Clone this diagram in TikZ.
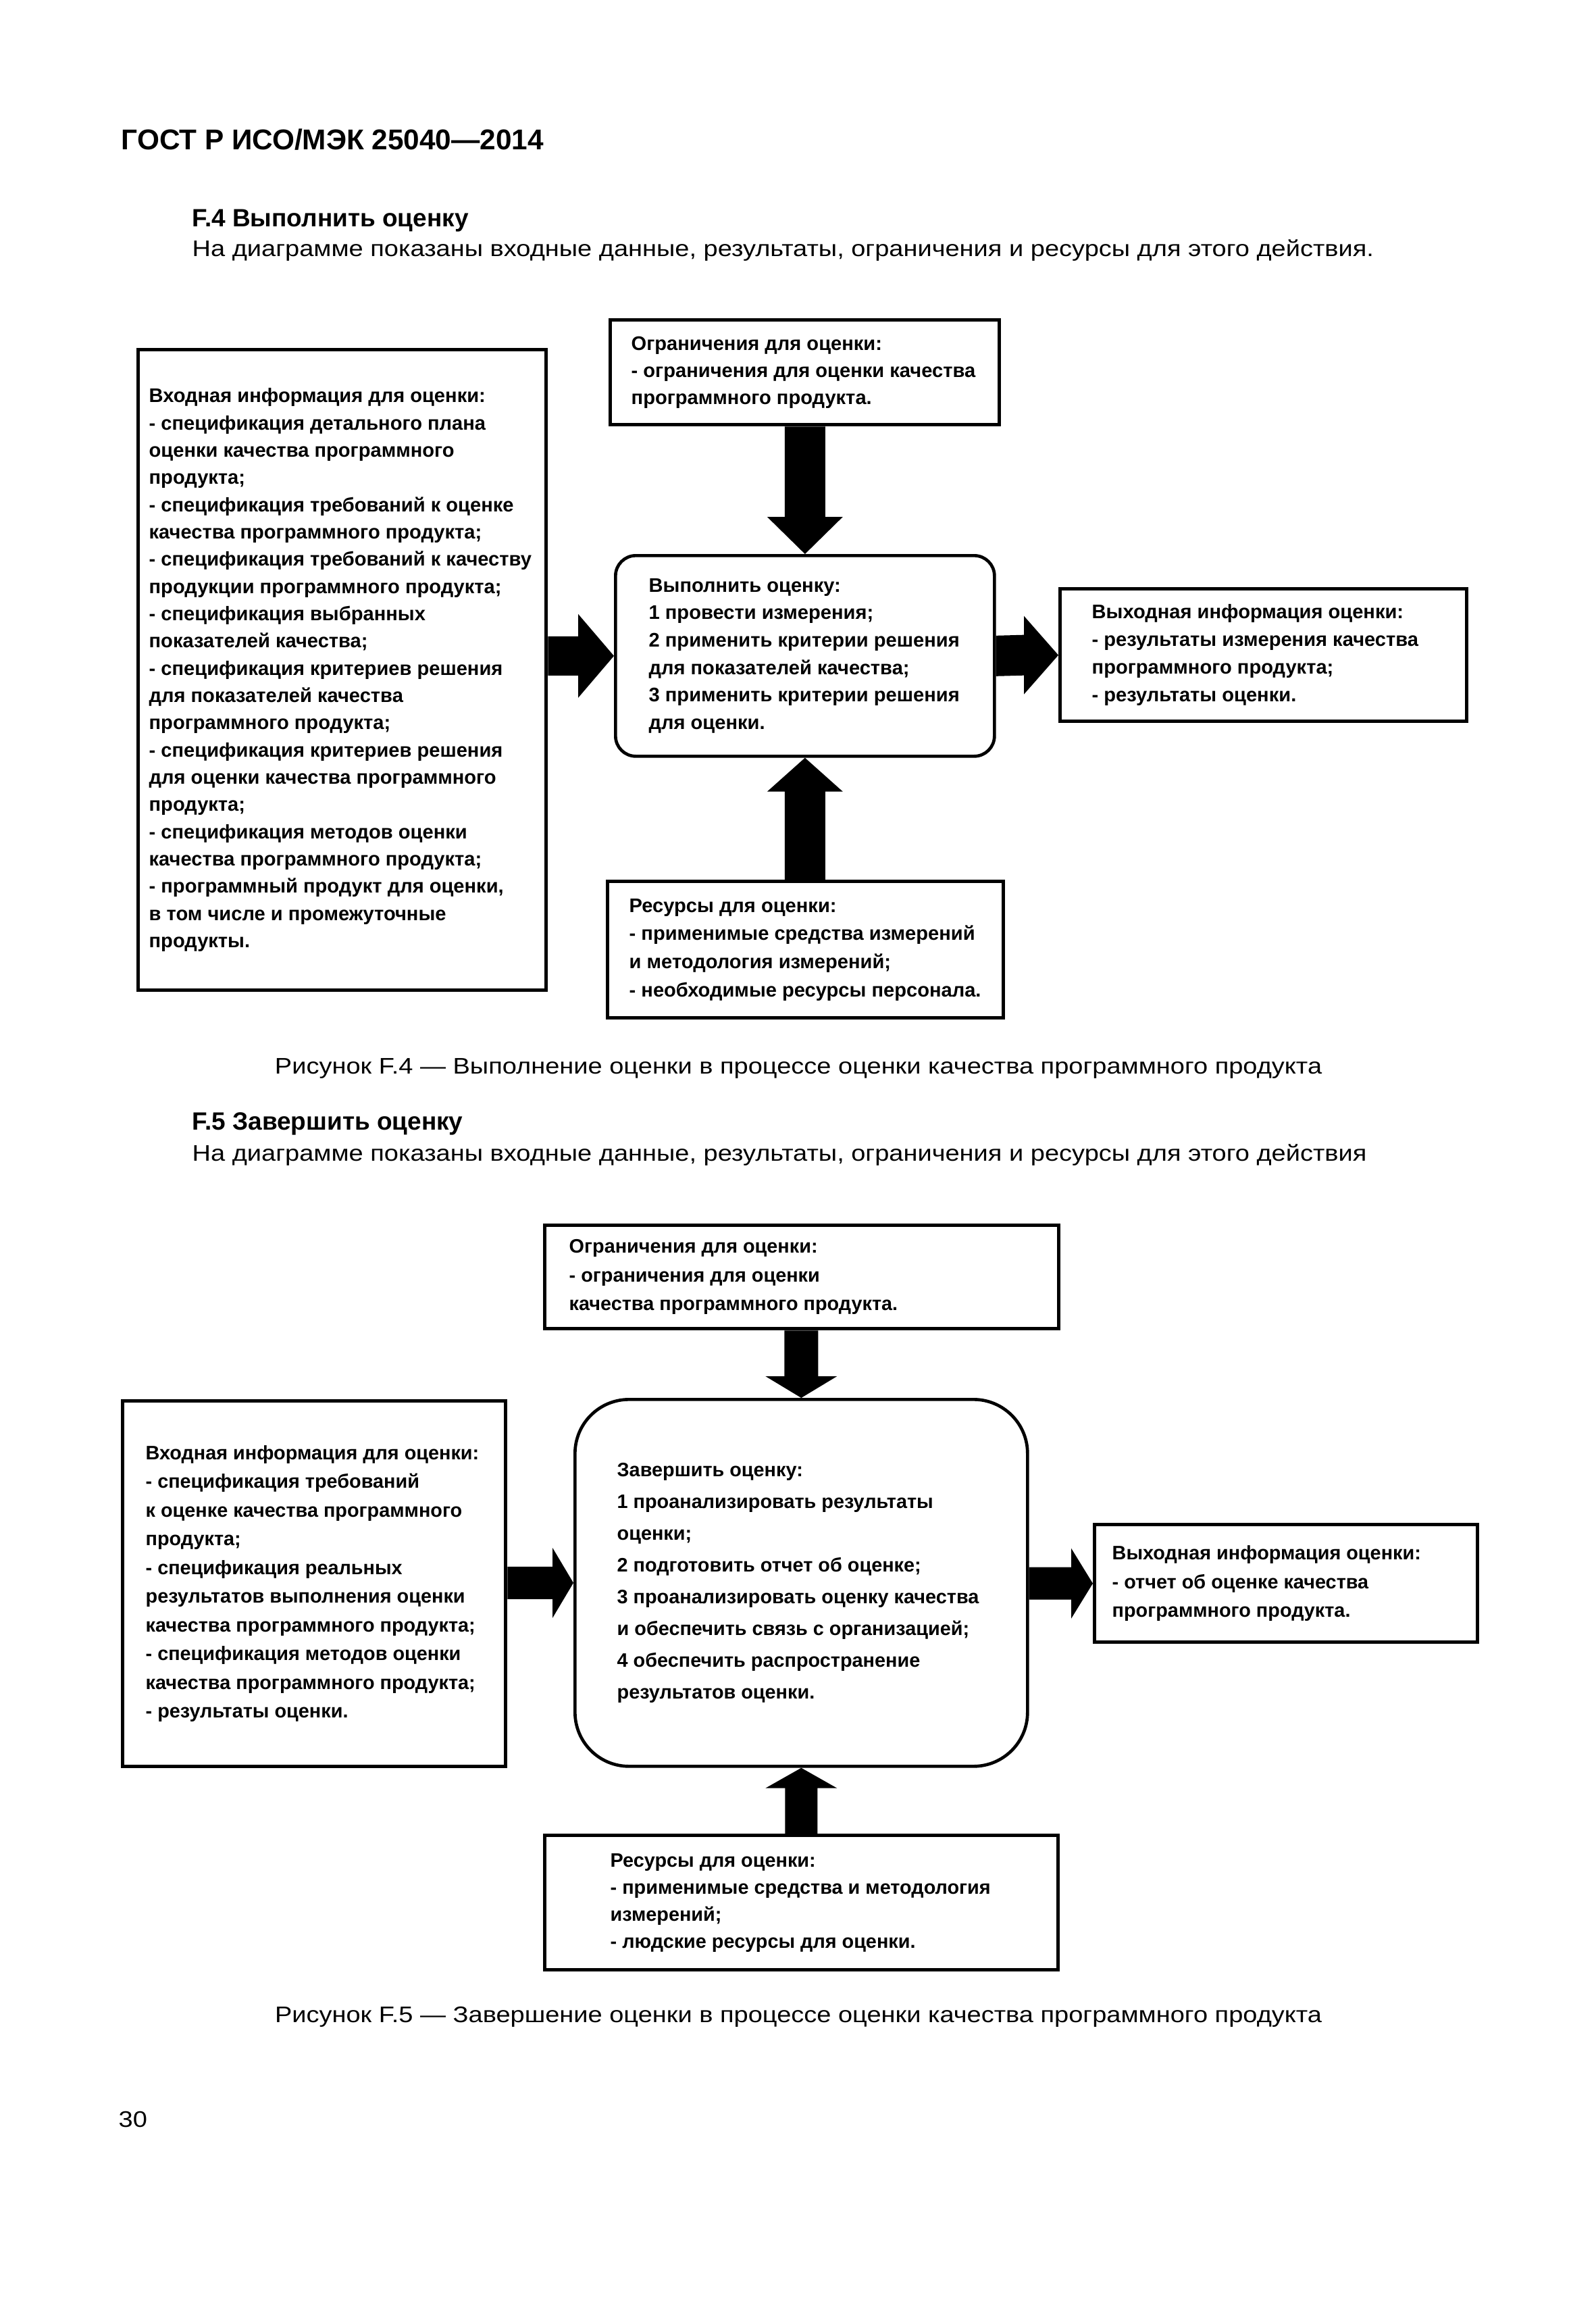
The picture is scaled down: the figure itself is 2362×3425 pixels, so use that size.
\documentclass[tikz,border=0pt]{standalone}
\usepackage{fontspec}
\setmainfont{Liberation Sans}
\newfontfamily\regwide[FakeStretch=1.14]{Liberation Sans}
\usetikzlibrary{calc}
\newcommand\pxu{0.3pt}
\tikzset{
 box/.style={draw, line width=1.6pt, rectangle, inner sep=0pt, anchor=north west},
 rbox/.style={box, line width=1.4pt},
 txt/.style={inner sep=0pt, align=left, anchor=west},
 ffour/.style={font=\fontsize{8.73}{#1}\selectfont\bfseries},
 ffive/.style={font=\fontsize{8.65}{#1}\selectfont\bfseries},
 plain/.style={inner sep=0pt, anchor=base west},
 regtext/.style={font=\regwide\fontsize{10}{12}\selectfont},
 headtext/.style={font=\fontsize{11.1}{13}\selectfont\bfseries},
}
\newcommand\rarr[5]{\fill ($#1+(0,-#3)$) -- ($#2+(-#5,-#3)$) -- ($#2+(-#5,-#4)$) -- #2 -- ($#2+(-#5,#4)$) -- ($#2+(-#5,#3)$) -- ($#1+(0,#3)$) -- cycle;}
\newcommand\darr[5]{\fill ($#1+(-#3,0)$) -- ($#2+(-#3,-#5)$) -- ($#2+(-#4,-#5)$) -- #2 -- ($#2+(#4,-#5)$) -- ($#2+(#3,-#5)$) -- ($#1+(#3,0)$) -- cycle;}
\newcommand\uarr[5]{\fill ($#1+(-#3,0)$) -- ($#2+(-#3,#5)$) -- ($#2+(-#4,#5)$) -- #2 -- ($#2+(#4,#5)$) -- ($#2+(#3,#5)$) -- ($#1+(#3,0)$) -- cycle;}
\begin{document}
\begin{tikzpicture}[x=0.3pt,y=-0.3pt]
\fill[white] (0,0) rectangle (2362,3425);
\useasboundingbox (0,0) rectangle (2362,3425);

% page texts
\node[plain, font=\fontsize{12.7}{14}\selectfont\bfseries] (hdr) at (179,222) {ГОСТ Р ИСО/МЭК 25040—2014};
\node[plain, headtext] (h4) at (284,336) {F.4 Выполнить оценку};
\node[plain, regtext] (d4) at (284,380) {На диаграмме показаны входные данные, результаты, ограничения и ресурсы для этого действия.};
\node[inner sep=0pt, anchor=base, regtext] (c4) at (1182,1589) {Рисунок F.4 — Выполнение оценки в процессе оценки качества программного продукта};
\node[plain, headtext] (h5) at (284,1672) {F.5 Завершить оценку};
\node[plain, regtext] (d5) at (284,1718) {На диаграмме показаны входные данные, результаты, ограничения и ресурсы для этого действия};
\node[inner sep=0pt, anchor=base, regtext] (c5) at (1182,2993) {Рисунок F.5 — Завершение оценки в процессе оценки качества программного продукта};
\node[plain, regtext] (pg) at (175,3148) {30};

% ---------- F.4 ----------
\node[box, minimum width=604*\pxu, minimum height=948*\pxu] (in4) at (202,515) {};
\node[box, minimum width=576*\pxu, minimum height=155*\pxu] (cons4) at (901,471) {};
\node[rbox, rounded corners=9pt, minimum width=561*\pxu, minimum height=297*\pxu] (proc4) at (909,820) {};
\node[box, minimum width=602*\pxu, minimum height=196*\pxu] (out4) at (1567,869) {};
\node[box, minimum width=586*\pxu, minimum height=202*\pxu] (res4) at (897,1302) {};

\node[txt, ffour=12.1pt] (in4t) at ([xshift=18*\pxu]in4.west) {Входная информация для оценки:\\- спецификация детального плана\\оценки качества программного\\продукта;\\- спецификация требований к оценке\\качества программного продукта;\\- спецификация требований к качеству\\продукции программного продукта;\\- спецификация выбранных\\показателей качества;\\- спецификация критериев решения\\для показателей качества\\программного продукта;\\- спецификация критериев решения\\для оценки качества программного\\продукта;\\- спецификация методов оценки\\качества программного продукта;\\- программный продукт для оценки,\\в том числе и промежуточные\\продукты.};
\node[txt, ffour=12pt] (cons4t) at ([xshift=33*\pxu]cons4.west) {Ограничения для оценки:\\- ограничения для оценки качества\\программного продукта.};
\node[txt, ffour=12.2pt] (proc4t) at ([xshift=51*\pxu]proc4.west) {Выполнить оценку:\\1 провести измерения;\\2 применить критерии решения\\для показателей качества;\\3 применить критерии решения\\для оценки.};
\node[txt, ffour=12.3pt] (out4t) at ([xshift=49*\pxu]out4.west) {Выходная информация оценки:\\- результаты измерения качества\\программного продукта;\\- результаты оценки.};
\node[txt, ffour=12.5pt] (res4t) at ([xshift=34*\pxu]res4.west) {Ресурсы для оценки:\\- применимые средства измерений\\и методология измерений;\\- необходимые ресурсы персонала.};

\rarr{(in4.east |- proc4.west)}{(proc4.west)}{29}{62}{53}
\rarr{(proc4.east)}{(out4.west)}{30}{58}{51}
\darr{(cons4.south -| proc4.north)}{(proc4.north)}{30}{56}{55}
\uarr{(res4.north -| proc4.south)}{(proc4.south)}{30}{56}{50}

% ---------- F.5 ----------
\node[box, minimum width=761*\pxu, minimum height=153*\pxu] (cons5) at (804,1811) {};
\node[box, minimum width=567*\pxu, minimum height=541*\pxu] (in5) at (179,2071) {};
\node[rbox, rounded corners=24pt, minimum width=670*\pxu, minimum height=543*\pxu] (proc5) at (849,2069) {};
\node[box, minimum width=567*\pxu, minimum height=174*\pxu] (out5) at (1618,2254) {};
\node[box, minimum width=760*\pxu, minimum height=199*\pxu] (res5) at (804,2714) {};

\node[txt, ffive=12.75pt] (cons5t) at ([xshift=38*\pxu]cons5.west) {Ограничения для оценки:\\- ограничения для оценки\\качества программного продукта.};
\node[txt, ffive=12.75pt] (in5t) at ([xshift=36*\pxu]in5.west) {Входная информация для оценки:\\- спецификация требований\\к оценке качества программного\\продукта;\\- спецификация реальных\\результатов выполнения оценки\\качества программного продукта;\\- спецификация методов оценки\\качества программного продукта;\\- результаты оценки.};
\node[txt, ffive=14.1pt] (proc5t) at ([xshift=64*\pxu]proc5.west) {Завершить оценку:\\1 проанализировать результаты\\оценки;\\2 подготовить отчет об оценке;\\3 проанализировать оценку качества\\и обеспечить связь с организацией;\\4 обеспечить распространение\\результатов оценки.};
\node[txt, ffive=12.75pt] (out5t) at ([xshift=28*\pxu]out5.west) {Выходная информация оценки:\\- отчет об оценке качества\\программного продукта.};
\node[txt, ffive=12pt] (res5t) at ([xshift=99*\pxu]res5.west) {Ресурсы для оценки:\\- применимые средства и методология\\измерений;\\- людские ресурсы для оценки.};

\rarr{(in5.east |- proc5.west)}{(proc5.west)}{24}{52}{31}
\rarr{(proc5.east |- out5.west)}{(out5.west)}{24}{52}{32}
\darr{(cons5.south -| proc5.north)}{(proc5.north)}{25}{53}{32}
\uarr{(res5.north -| proc5.south)}{(proc5.south)}{24}{53}{30}
\end{tikzpicture}
\end{document}
